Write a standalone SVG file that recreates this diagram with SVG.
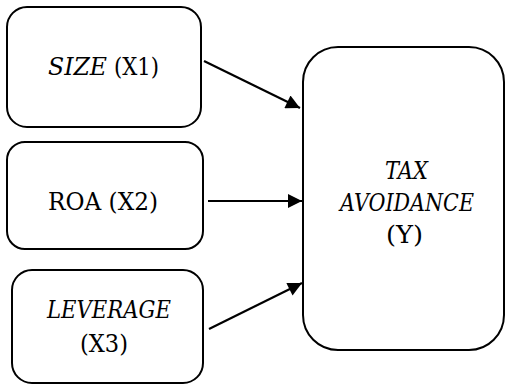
<svg xmlns="http://www.w3.org/2000/svg" width="506" height="385" viewBox="0 0 506 385">
  <style>
    .box { fill: #ffffff; stroke: #000000; stroke-width: 2; }
    .lbl { font-family: "DejaVu Serif", "Liberation Serif", serif; font-size: 24px; fill: #000000; text-anchor: middle; }
    .start { text-anchor: start; }
    .it { font-style: italic; }
    .edge { stroke: #000000; stroke-width: 2.2; fill: none; marker-end: url(#head); }
  </style>
  <defs>
    <marker id="head" viewBox="0 0 10 10" refX="10" refY="5" markerWidth="16" markerHeight="14" markerUnits="userSpaceOnUse" orient="auto">
      <path d="M0,0 L10,5 L0,10 z" fill="#000000"/>
    </marker>
  </defs>

  <g id="size">
    <rect class="box" x="7" y="7" width="194" height="120" rx="20" ry="20"/>
    <text class="lbl it start" x="48" y="75" textLength="59" lengthAdjust="spacingAndGlyphs">SIZE</text>
    <text class="lbl start" x="114" y="75" textLength="45" lengthAdjust="spacingAndGlyphs">(X1)</text>
  </g>

  <g id="roa">
    <rect class="box" x="7" y="142" width="196" height="107" rx="18" ry="18"/>
    <text class="lbl" x="103" y="210" textLength="110" lengthAdjust="spacingAndGlyphs">ROA (X2)</text>
  </g>

  <g id="leverage">
    <rect class="box" x="12" y="270" width="191" height="113" rx="20" ry="20"/>
    <text class="lbl it" x="109" y="318" textLength="124" lengthAdjust="spacingAndGlyphs">LEVERAGE</text>
    <text class="lbl" x="104" y="352" textLength="48" lengthAdjust="spacingAndGlyphs">(X3)</text>
  </g>

  <g id="tax-avoidance">
    <rect class="box" x="303" y="47" width="201" height="303" rx="35" ry="35"/>
    <text class="lbl it" x="406.5" y="179" textLength="43" lengthAdjust="spacingAndGlyphs">TAX</text>
    <text class="lbl it" x="407" y="211" textLength="134" lengthAdjust="spacingAndGlyphs">AVOIDANCE</text>
    <text class="lbl" x="404.5" y="243" textLength="37" lengthAdjust="spacingAndGlyphs">(Y)</text>
  </g>

  <g id="connectors">
    <line class="edge" x1="204" y1="61" x2="300" y2="108"/>
    <line class="edge" x1="208" y1="201" x2="302" y2="201"/>
    <line class="edge" x1="209" y1="329" x2="302" y2="283"/>
  </g>
</svg>
